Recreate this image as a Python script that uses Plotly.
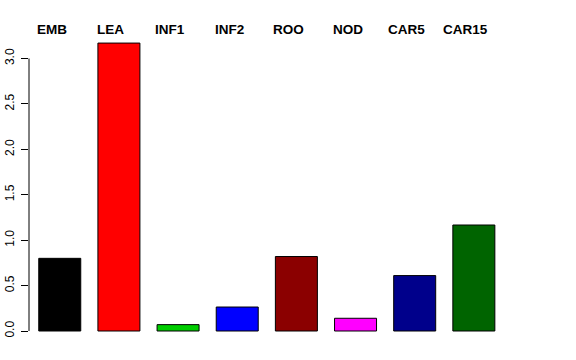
import plotly.graph_objects as go

categories = ["EMB", "LEA", "INF1", "INF2", "ROO", "NOD", "CAR5", "CAR15"]
values = [0.80, 3.17, 0.07, 0.264, 0.82, 0.14, 0.61, 1.167]
colors = ["#000000", "#FF0000", "#00CD00", "#0000FF", "#8B0000", "#FF00FF", "#00008B", "#006400"]
y_ticks = [0.0, 0.5, 1.0, 1.5, 2.0, 2.5, 3.0]

positions = list(range(len(categories)))

fig = go.Figure()
fig.add_trace(go.Bar(
    x=positions, y=values, width=0.71,
    marker=dict(color=colors, line=dict(color="black", width=1)),
    showlegend=False, hoverinfo="skip",
))

for i, c in enumerate(categories):
    fig.add_annotation(x=i - 0.135, y=1.0, xref="x", yref="paper",
                       yanchor="bottom", yshift=-9, text=f"<b>{c}</b>", showarrow=False,
                       font=dict(family="Liberation Sans, Arial", size=13.5, color="black"))

fig.add_shape(type="line", xref="paper", yref="y", x0=0, x1=0, y0=0, y1=3.0,
              line=dict(color="black", width=1))

fig.update_layout(
    width=576, height=360,
    margin=dict(l=29, r=43, t=30, b=18, autoexpand=False),
    paper_bgcolor="white", plot_bgcolor="white",
    font=dict(family="Liberation Sans, Arial", size=12, color="black"),
    xaxis=dict(range=[-0.52, 8.0], showgrid=False, zeroline=False, showline=False,
               showticklabels=False, ticks="", automargin=False),
    yaxis=dict(range=[-0.1211, 3.3139], showgrid=False, zeroline=False, showline=False,
               tickvals=y_ticks, ticktext=[f"{v:.1f}" for v in y_ticks],
               ticks="outside", ticklen=7, tickwidth=1, tickcolor="black",
               tickangle=-90, tickfont=dict(size=12), automargin=False,
               ticklabelstandoff=2),
)

fig.write_html("out.html")
